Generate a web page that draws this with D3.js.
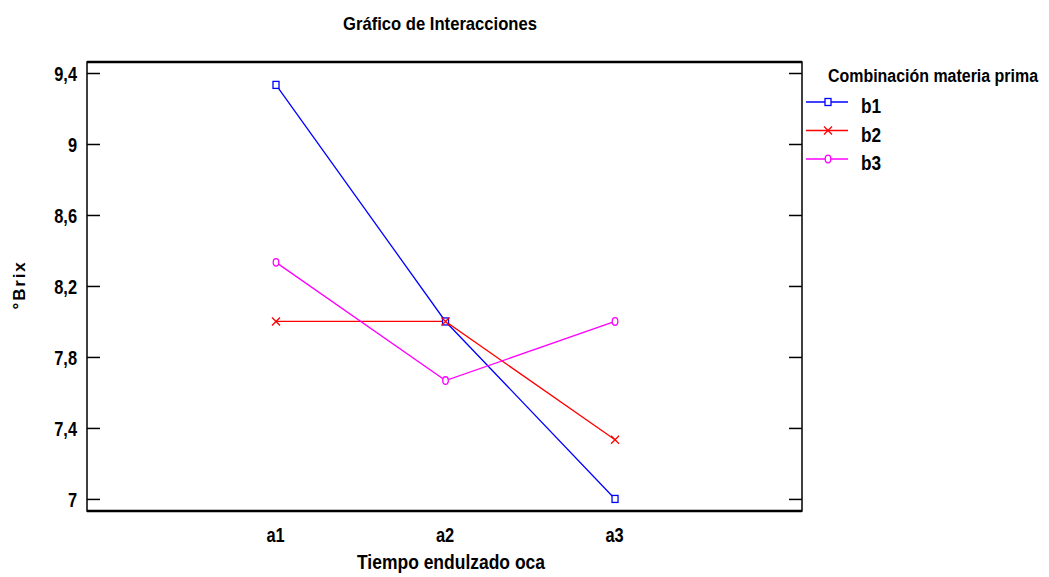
<!DOCTYPE html>
<html><head><meta charset="utf-8">
<script src="https://cdn.jsdelivr.net/npm/d3@7"></script>
<style>
body{margin:0;background:#fff;}
text{font-family:"Liberation Sans",Arial,sans-serif;font-weight:bold;fill:#000;}
</style></head>
<body><svg id="c" width="1049" height="577"></svg>
<script>
const categories = ["a1","a2","a3"];
const seriesNames = ["b1","b2","b3"];
const b1 = [9.333, 8.0, 7.0];
const b2 = [8.0, 8.0, 7.333];
const b3 = [8.333, 7.667, 8.0];
const yTicks = [7, 7.4, 7.8, 8.2, 8.6, 9, 9.4];
const colors = ["#0000ff","#ff0000","#ff00ff"];
const series = [b1,b2,b3];

const svg = d3.select("#c");
const L=87, R=802, T=62, B=511;
const x = d3.scaleLinear().domain([-0.115, 4.103]).range([L,R]);
const y = d3.scaleLinear().domain([6.932, 9.462]).range([B,T]);

// frame
svg.append("rect").attr("x",L).attr("y",T).attr("width",R-L).attr("height",B-T)
  .attr("fill","none").attr("stroke","#000").attr("stroke-width",1.5);
svg.append("line").attr("x1",L).attr("x2",R).attr("y1",T).attr("y2",T).attr("stroke","#000").attr("stroke-width",2.5);
svg.append("line").attr("x1",L).attr("x2",R).attr("y1",B).attr("y2",B).attr("stroke","#000").attr("stroke-width",2.5);

// y axes (left + right inner ticks)
const fmt = d => String(d).replace(".",",");
const ay = d3.axisLeft(y).tickValues(yTicks).tickSize(-13).tickFormat(fmt);
const gy = svg.append("g").attr("transform",`translate(${L},0)`).call(ay);
gy.select(".domain").remove();
gy.selectAll("line").attr("stroke","#000").attr("stroke-width",1.5);
gy.selectAll("text").attr("font-size",20).attr("dy","0.36em").attr("x",-10).classed("n",true)
  .style("font-family","'Liberation Sans',Arial,sans-serif");
const ayr = d3.axisRight(y).tickValues(yTicks).tickSize(-13).tickFormat("");
const gyr = svg.append("g").attr("transform",`translate(${R},0)`).call(ayr);
gyr.select(".domain").remove();
gyr.selectAll("line").attr("stroke","#000").attr("stroke-width",1.5);

// x axis labels
const ax = d3.axisBottom(x).tickValues([1,2,3]).tickSize(0).tickPadding(0).tickFormat((d,i)=>categories[i]);
const gx = svg.append("g").attr("transform",`translate(0,${B})`).call(ax);
gx.select(".domain").remove();
gx.selectAll("text").attr("font-size",20).attr("dy",null).attr("y",31).attr("x",-1).classed("n",true)
  .style("font-family","'Liberation Sans',Arial,sans-serif");

// lines
const line = d3.line().x((d,i)=>x(i+1)).y(d=>y(d));
series.forEach((s,k)=>{
  svg.append("path").attr("d",line(s)).attr("fill","none").attr("stroke",colors[k]).attr("stroke-width",1.3);
});
function marker(g,k,cx,cy){
  if(k===0) g.append("rect").attr("x",cx-3).attr("y",cy-3.5).attr("width",6).attr("height",7).attr("fill","#fff").attr("stroke",colors[0]).attr("stroke-width",1.3);
  else if(k===1) g.append("path").attr("d",`M${cx-4},${cy-4}L${cx+4},${cy+4}M${cx+4},${cy-4}L${cx-4},${cy+4}`).attr("stroke",colors[1]).attr("stroke-width",1.3);
  else g.append("ellipse").attr("cx",cx).attr("cy",cy).attr("rx",2.8).attr("ry",3.8).attr("fill","#fff").attr("stroke",colors[2]).attr("stroke-width",1.3);
}
series.forEach((s,k)=>{
  s.forEach((v,i)=>marker(svg,k,x(i+1),y(v)));
});

// title
svg.append("text").attr("x",440).attr("y",30).attr("text-anchor","middle").attr("font-size",19)
  .attr("textLength",194).attr("lengthAdjust","spacingAndGlyphs").text("Gráfico de Interacciones");
// x title
svg.append("text").attr("x",451).attr("y",569).attr("text-anchor","middle").attr("font-size",20)
  .attr("textLength",188).attr("lengthAdjust","spacingAndGlyphs").text("Tiempo endulzado oca");
// y title
svg.append("text").attr("transform","translate(25,285) rotate(-90)").attr("text-anchor","middle")
  .attr("font-size",17).attr("letter-spacing","1.8px").text("°Brix");

// legend
svg.append("text").attr("transform","translate(828,82) scale(0.84,1)").attr("font-size",19)
  .text("Combinación materia prima");
seriesNames.forEach((n,k)=>{
  const ly = 102 + k*28.5;
  svg.append("line").attr("x1",806).attr("x2",848).attr("y1",ly).attr("y2",ly).attr("stroke",colors[k]).attr("stroke-width",1.3);
  marker(svg,k,828,ly);
  svg.append("text").attr("x",861).attr("y",ly+11).attr("font-size",21).classed("n",true).text(n);
});

// condense narrow-style texts
svg.selectAll("text.n").each(function(){
  const len = this.getComputedTextLength();
  d3.select(this).attr("textLength",len*0.82).attr("lengthAdjust","spacingAndGlyphs");
});
</script></body></html>
